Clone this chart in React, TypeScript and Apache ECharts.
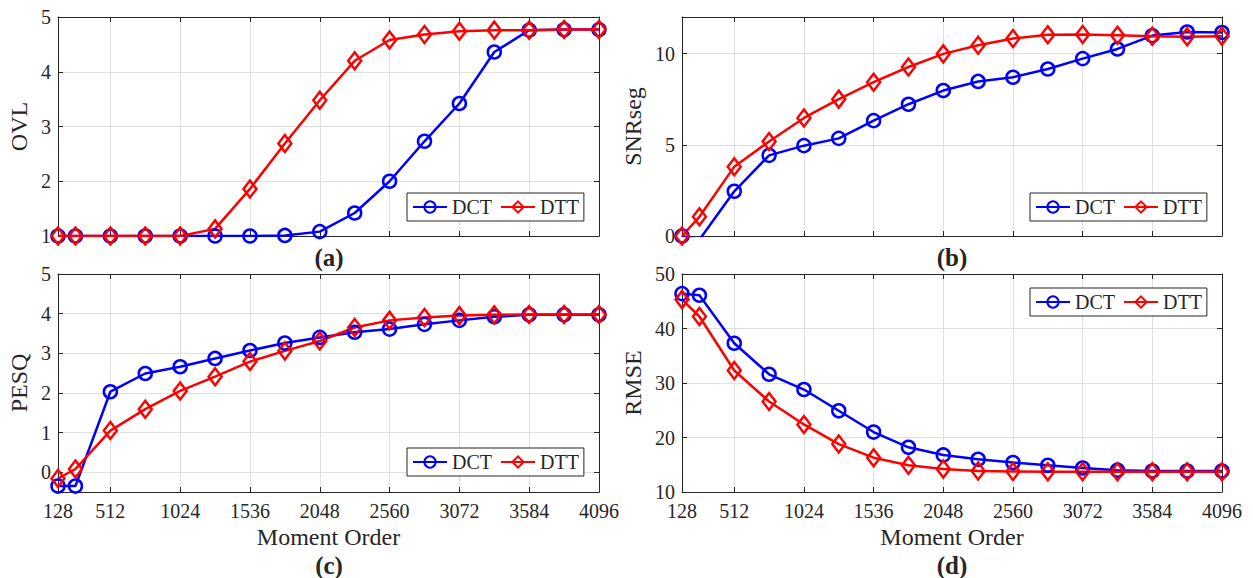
import React, { useEffect, useRef } from 'react';
import * as echarts from 'echarts';

const momentOrders = [128, 256, 512, 768, 1024, 1280, 1536, 1792, 2048, 2304, 2560, 2816, 3072, 3328, 3584, 3840, 4096];
const xTicks = [128, 512, 1024, 1536, 2048, 2560, 3072, 3584, 4096];
const seriesNames = ['DCT', 'DTT'];

const ovlDCT = [1.0, 1.0, 1.0, 1.0, 1.0, 1.0, 1.0, 1.01, 1.08, 1.42, 2.0, 2.73, 3.42, 4.36, 4.76, 4.77, 4.77];
const ovlDTT = [1.0, 1.0, 1.0, 1.0, 1.0, 1.13, 1.86, 2.69, 3.48, 4.2, 4.58, 4.68, 4.74, 4.76, 4.76, 4.77, 4.77];

const snrDCT = [0.0, -0.2, 2.45, 4.42, 4.95, 5.35, 6.32, 7.22, 7.97, 8.47, 8.7, 9.15, 9.72, 10.25, 10.98, 11.18, 11.15];
const snrDTT = [0.0, 1.05, 3.8, 5.18, 6.47, 7.5, 8.43, 9.26, 9.98, 10.45, 10.82, 11.03, 11.04, 11.0, 10.95, 10.92, 10.94];

const pesqDCT = [-0.35, -0.35, 2.03, 2.49, 2.66, 2.87, 3.07, 3.26, 3.4, 3.53, 3.61, 3.73, 3.83, 3.92, 3.97, 3.97, 3.97];
const pesqDTT = [-0.16, 0.08, 1.05, 1.59, 2.05, 2.41, 2.79, 3.06, 3.31, 3.65, 3.83, 3.9, 3.95, 3.97, 3.98, 3.98, 3.98];

const rmseDCT = [46.4, 46.1, 37.3, 31.6, 28.8, 24.9, 21.0, 18.2, 16.8, 16.0, 15.4, 14.9, 14.4, 14.0, 13.85, 13.85, 13.85];
const rmseDTT = [45.3, 42.2, 32.3, 26.6, 22.4, 18.8, 16.3, 14.9, 14.2, 13.85, 13.75, 13.7, 13.7, 13.7, 13.7, 13.7, 13.7];

const ovlTicks = [1, 2, 3, 4, 5];
const snrTicks = [0, 5, 10];
const pesqTicks = [0, 1, 2, 3, 4, 5];
const rmseTicks = [10, 20, 30, 40, 50];

const yNames = ['OVL', 'SNRseg', 'PESQ', 'RMSE'];
const panelLetters = ['(a)', '(b)', '(c)', '(d)'];
const xName = 'Moment Order';

const FONT = '"Liberation Serif", "Times New Roman", serif';
const AX = '#262626';
const GRIDC = '#dfdfdf';
const BLUE = '#0000ff';
const RED = '#ff0000';

const panels = [
  { grid: { left: 58, top: 17, width: 541, height: 219 }, yMin: 1, yMax: 5, yTicks: ovlTicks, dct: ovlDCT, dtt: ovlDTT, showX: false, nameGap: 27, legend: { left: 407, top: 193 }, letter: { x: 329, y: 257 } },
  { grid: { left: 682, top: 17, width: 540, height: 219 }, yMin: 0, yMax: 12, yTicks: snrTicks, dct: snrDCT, dtt: snrDTT, showX: false, nameGap: 37, legend: { left: 1030, top: 193 }, letter: { x: 952, y: 257 } },
  { grid: { left: 58, top: 274, width: 541, height: 218 }, yMin: -0.5, yMax: 5, yTicks: pesqTicks, dct: pesqDCT, dtt: pesqDTT, showX: true, nameGap: 27, legend: { left: 407, top: 448 }, letter: { x: 329, y: 565 } },
  { grid: { left: 682, top: 274, width: 540, height: 218 }, yMin: 10, yMax: 50, yTicks: rmseTicks, dct: rmseDCT, dtt: rmseDTT, showX: true, nameGap: 37, legend: { left: 1030, top: 288 }, letter: { x: 952, y: 565 } },
];

const plain = (v: number) => String(v);

function buildOption() {
  const grid: any[] = [];
  const xAxis: any[] = [];
  const yAxis: any[] = [];
  const series: any[] = [];
  const legend: any[] = [];
  const graphic: any[] = [];

  panels.forEach((p, i) => {
    grid.push({ ...p.grid, containLabel: false });
    const tick = { show: true, inside: true, length: 5, lineStyle: { color: AX, width: 1 } };
    xAxis.push({
      type: 'value', gridIndex: i, position: 'bottom', min: 128, max: 4096,
      axisLine: { show: true, onZero: false, lineStyle: { color: AX, width: 1 } },
      axisTick: { ...tick, customValues: xTicks },
      axisLabel: { show: p.showX, customValues: xTicks, formatter: plain, color: AX, fontFamily: FONT, fontSize: 20, margin: 9 },
      splitLine: { show: true, lineStyle: { color: GRIDC, width: 1 } },
      name: p.showX ? xName : '', nameLocation: 'middle', nameGap: 33,
      nameTextStyle: { color: AX, fontFamily: FONT, fontSize: 24 },
    });
    xAxis.push({
      type: 'value', gridIndex: i, position: 'top', min: 128, max: 4096,
      axisLine: { show: true, onZero: false, lineStyle: { color: AX, width: 1 } },
      axisTick: { ...tick, customValues: xTicks },
      axisLabel: { show: false, customValues: xTicks },
      splitLine: { show: false },
    });
    yAxis.push({
      type: 'value', gridIndex: i, position: 'left', min: p.yMin, max: p.yMax,
      axisLine: { show: true, onZero: false, lineStyle: { color: AX, width: 1 } },
      axisTick: { ...tick, customValues: p.yTicks },
      axisLabel: { show: true, customValues: p.yTicks, formatter: plain, color: AX, fontFamily: FONT, fontSize: 20, margin: 7 },
      splitLine: { show: true, lineStyle: { color: GRIDC, width: 1 } },
      name: yNames[i], nameLocation: 'middle', nameGap: p.nameGap, nameRotate: 90,
      nameTextStyle: { color: AX, fontFamily: FONT, fontSize: 24 },
    });
    yAxis.push({
      type: 'value', gridIndex: i, position: 'right', min: p.yMin, max: p.yMax,
      axisLine: { show: true, onZero: false, lineStyle: { color: AX, width: 1 } },
      axisTick: { ...tick, customValues: p.yTicks },
      axisLabel: { show: false, customValues: p.yTicks },
      splitLine: { show: false },
    });
    const mk = (name: string, vals: number[], color: string, symbol: string, size: any) => ({
      type: 'line', name, xAxisIndex: 2 * i, yAxisIndex: 2 * i,
      data: momentOrders.map((x, k) => [x, vals[k]]),
      symbol, symbolSize: size, showAllSymbol: true, clip: true, silent: true,
      lineStyle: { color, width: 2.5 },
      itemStyle: { color: 'rgba(255,255,255,0)', borderColor: color, borderWidth: 2.5 },
      emphasis: { disabled: true },
    });
    series.push(mk(seriesNames[0], p.dct, BLUE, 'circle', 13));
    series.push(mk(seriesNames[1], p.dtt, RED, 'diamond', [13, 17]));
    legend.push({
      left: p.legend.left, top: p.legend.top, orient: 'horizontal',
      data: seriesNames, selectedMode: false,
      itemWidth: 34, itemHeight: 14, itemGap: 8,
      padding: [4, 5],
      backgroundColor: '#ffffff', borderColor: AX, borderWidth: 1,
      formatter: '{s|{name}}',
      textStyle: {
        color: AX, fontFamily: FONT, fontSize: 20,
        rich: { s: { color: AX, fontFamily: FONT, fontSize: 20 } },
      },
    });
    graphic.push({
      type: 'text', x: p.letter.x, y: p.letter.y,
      style: { text: panelLetters[i], fill: AX, font: `bold 25px ${FONT}`, align: 'center', verticalAlign: 'middle' },
    });
  });

  return {
    animation: false, backgroundColor: '#ffffff',
    textStyle: { fontFamily: FONT },
    grid, xAxis, yAxis, series, legend, graphic,
  };
}

export default function App() {
  const ref = useRef<HTMLDivElement>(null);
  useEffect(() => {
    if (!ref.current) return;
    const chart = echarts.init(ref.current, undefined, { renderer: 'svg' });
    chart.setOption(buildOption() as any);
    return () => chart.dispose();
  }, []);
  return (
    <div
      ref={ref}
      style={{ position: 'fixed', left: 0, top: 0, width: 1253, height: 578, background: '#fff' }}
    />
  );
}
